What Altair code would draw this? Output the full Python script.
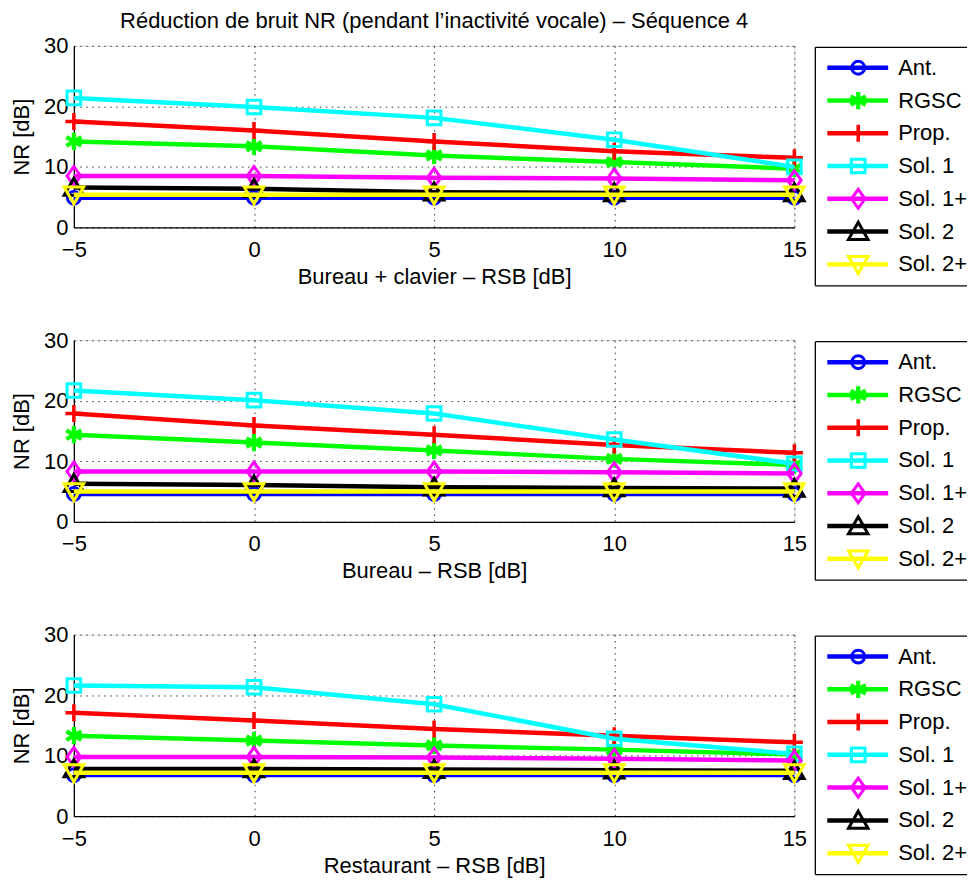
import altair as alt
import pandas as pd

FONT = "Liberation Sans"

snr = [-5, 0, 5, 10, 15]
series = ["Ant.", "RGSC", "Prop.", "Sol. 1", "Sol. 1+", "Sol. 2", "Sol. 2+"]
colors = ["#0000ff", "#00ff00", "#ff0000", "#00ffff", "#ff00ff", "#000000", "#ffff00"]

# Panel 1 : Bureau + clavier
p1_ant = [4.9, 4.9, 4.9, 4.9, 4.9]
p1_rgsc = [14.2, 13.4, 11.9, 10.8, 9.7]
p1_prop = [17.5, 16.0, 14.2, 12.6, 11.5]
p1_sol1 = [21.4, 19.9, 18.1, 14.5, 10.0]
p1_sol1p = [8.5, 8.5, 8.2, 8.1, 7.8]
p1_sol2 = [6.6, 6.4, 5.8, 5.7, 5.7]
p1_sol2p = [5.4, 5.4, 5.4, 5.4, 5.4]

# Panel 2 : Bureau
p2_ant = [4.6, 4.6, 4.6, 4.6, 4.6]
p2_rgsc = [14.4, 13.1, 11.8, 10.4, 9.4]
p2_prop = [17.9, 15.9, 14.4, 12.7, 11.4]
p2_sol1 = [21.7, 20.1, 17.9, 13.6, 9.6]
p2_sol1p = [8.3, 8.3, 8.3, 8.2, 8.0]
p2_sol2 = [6.3, 6.1, 5.7, 5.6, 5.5]
p2_sol2p = [5.0, 5.0, 5.0, 5.0, 5.0]

# Panel 3 : Restaurant
p3_ant = [6.8, 6.8, 6.8, 6.8, 6.8]
p3_rgsc = [13.3, 12.5, 11.7, 11.0, 10.2]
p3_prop = [17.1, 15.8, 14.4, 13.3, 12.2]
p3_sol1 = [21.6, 21.3, 18.5, 12.8, 10.3]
p3_sol1p = [9.8, 9.8, 9.7, 9.5, 9.2]
p3_sol2 = [7.8, 7.8, 7.7, 7.6, 7.5]
p3_sol2p = [7.2, 7.2, 7.2, 7.2, 7.2]

panels = [
    [p1_ant, p1_rgsc, p1_prop, p1_sol1, p1_sol1p, p1_sol2, p1_sol2p],
    [p2_ant, p2_rgsc, p2_prop, p2_sol1, p2_sol1p, p2_sol2, p2_sol2p],
    [p3_ant, p3_rgsc, p3_prop, p3_sol1, p3_sol1p, p3_sol2, p3_sol2p],
]
x_titles = ["Bureau + clavier – RSB [dB]", "Bureau – RSB [dB]", "Restaurant – RSB [dB]"]
y_title = "NR [dB]"
y_ticks = [0, 10, 20, 30]
main_title = "Réduction de bruit NR (pendant l’inactivité vocale) – Séquence 4"

# marker styles (MATLAB o * + s d ^ v)
shapes = [
    "circle",
    "M0,-1L0,1M-0.87,-0.5L0.87,0.5M-0.87,0.5L0.87,-0.5",
    "M-1,0L1,0M0,-1L0,1",
    "square",
    "M0,-1L0.72,0L0,1L-0.72,0Z",
    "M0,-0.95L1,0.8L-1,0.8Z",
    "M0,0.95L1,-0.8L-1,-0.8Z",
]
sizes = [165, 300, 290, 185, 360, 380, 380]
mstroke = [3, 4.2, 3.5, 3, 3, 3, 3]

W, H = 722, 182
xscale = alt.Scale(domain=[-5, 15], nice=False, zero=False)
yscale = alt.Scale(domain=[0, 30], nice=False)


def make_panel(k):
    xaxis = alt.Axis(
        values=snr, title=x_titles[k], grid=True, gridDash=[1.5, 4.5], gridColor="#333",
        gridWidth=1, domainColor="#000", domainWidth=1.3, ticks=False, tickSize=0,
        labelFlush=False, labelPadding=12, labelFontSize=22, titleFontSize=22,
        titleFontWeight="normal", titlePadding=6, labelColor="#000", titleColor="#000",
        labelFont=FONT, titleFont=FONT,
    )
    yaxis = alt.Axis(
        values=y_ticks, title=y_title, grid=True, gridDash=[1.5, 4.5], gridColor="#333",
        gridWidth=1, domainColor="#000", domainWidth=1.3, ticks=False, tickSize=0,
        labelFlush=False, labelPadding=6, labelFontSize=22, titleFontSize=22,
        titleFontWeight="normal", titlePadding=10, labelColor="#000", titleColor="#000",
        labelFont=FONT, titleFont=FONT,
    )
    layers = []
    for i, name in enumerate(series):
        df = pd.DataFrame({"snr": snr, "nr": panels[k][i], "serie": name})
        base = alt.Chart(df).encode(
            x=alt.X("snr:Q", scale=xscale, axis=xaxis),
            y=alt.Y("nr:Q", scale=yscale, axis=yaxis),
        )
        layers.append(base.mark_line(color=colors[i], strokeWidth=4.5))
        layers.append(
            base.mark_point(shape=shapes[i], size=sizes[i], filled=False, color=colors[i],
                            strokeWidth=mstroke[i], opacity=1)
        )
    data_layer = alt.layer(*layers)

    # legend
    leg_y = alt.Y("serie:N", sort=series,
                  scale=alt.Scale(type="point", domain=series, range=[22, 219], padding=0),
                  axis=None)
    leg_layers = []
    for i, name in enumerate(series):
        ldf = pd.DataFrame({"serie": [name]})
        lb = alt.Chart(ldf).encode(y=leg_y)
        leg_layers.append(lb.mark_rule(color=colors[i], strokeWidth=4.5).encode(
            x=alt.value(755), x2=alt.value(816)))
        leg_layers.append(lb.mark_point(shape=shapes[i], size=sizes[i], filled=False,
                                        color=colors[i], strokeWidth=mstroke[i], opacity=1)
                          .encode(x=alt.value(786)))
        leg_layers.append(lb.mark_text(align="left", baseline="middle", fontSize=22, font=FONT,
                                       color="#000").encode(x=alt.value(826), text="serie:N"))
    box = alt.Chart(pd.DataFrame({"serie": ["box"]}))
    leg_layers.append(box.mark_rule(color="#000", strokeWidth=1.3).encode(
        x=alt.value(743), y=alt.value(1.5), y2=alt.value(240.5)))
    leg_layers.append(box.mark_rule(color="#000", strokeWidth=1.3).encode(
        x=alt.value(743), x2=alt.value(895), y=alt.value(1.5)))
    leg_layers.append(box.mark_rule(color="#000", strokeWidth=1.3).encode(
        x=alt.value(743), x2=alt.value(895), y=alt.value(240.5)))
    legend_layer = alt.layer(*leg_layers)

    ch = alt.layer(data_layer, legend_layer).resolve_scale(y="independent").properties(
        width=W, height=H)
    if k == 0:
        ch = ch.properties(title=alt.TitleParams(
            main_title, fontSize=22, font=FONT, fontWeight="normal", anchor="middle",
            frame="group", baseline="alphabetic", offset=-15, color="#000"))
    return ch


chart = alt.vconcat(make_panel(0), make_panel(1), make_panel(2), spacing=40).properties(
    padding={"left": 2, "top": 0, "right": 0, "bottom": 0}
).configure_view(stroke=None).configure(background="white")

chart.save("out.html", embed_options={"renderer": "svg", "actions": False})
